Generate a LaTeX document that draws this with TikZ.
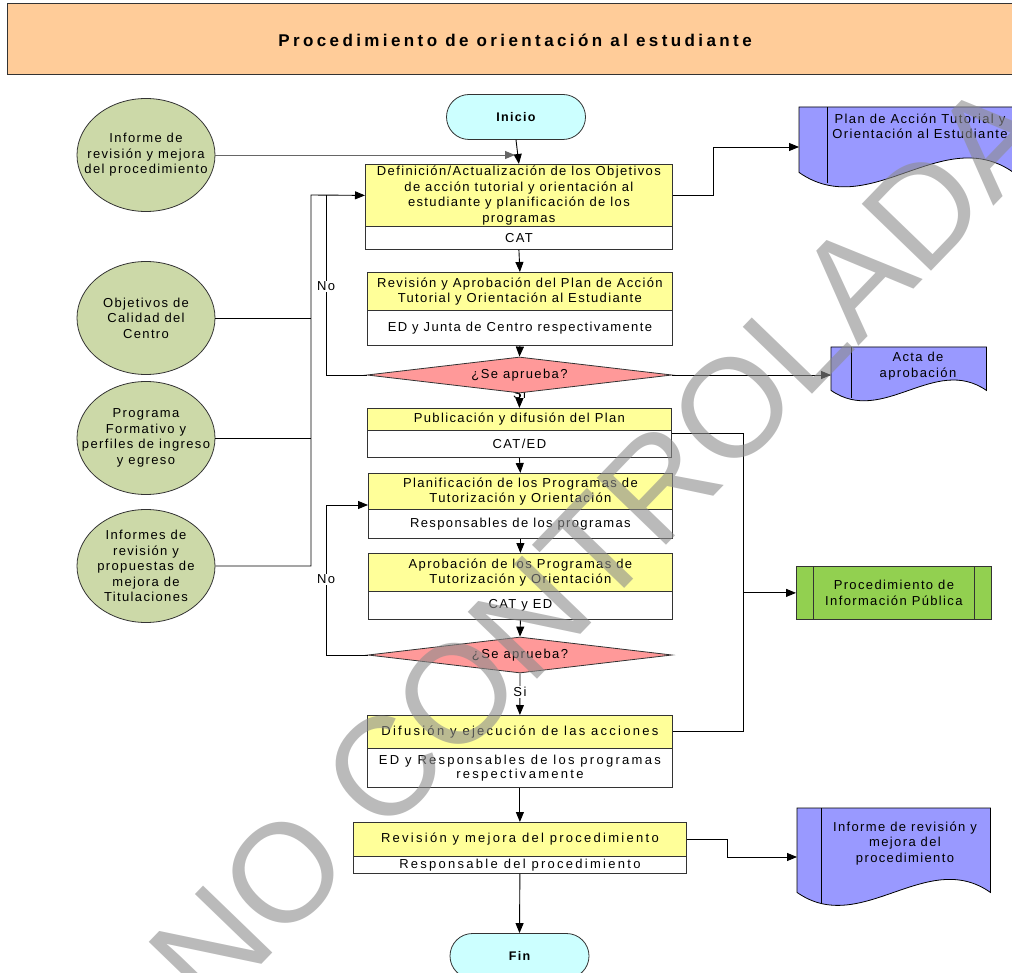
\documentclass[tikz,border=0pt]{standalone}
\usepackage{fontspec}
\setmainfont{Liberation Sans}
\newfontfamily\spfont[LetterSpace=10.5]{Liberation Sans}
\newfontfamily\spwide[LetterSpace=17.5]{Liberation Sans}
\newfontfamily\ttlfont[LetterSpace=20]{Liberation Sans}
\newfontfamily\wmfont{Liberation Sans}
\usetikzlibrary{arrows.meta,shapes.geometric,shapes.misc}
\definecolor{hdr}{HTML}{FFCC99}
\definecolor{yel}{HTML}{FFFF99}
\definecolor{dia}{HTML}{FF9999}
\definecolor{circ}{HTML}{CCD9A8}
\definecolor{term}{HTML}{CCFFFF}
\definecolor{docb}{HTML}{9999FF}
\definecolor{grn}{HTML}{92D050}
\definecolor{bord}{HTML}{333333}
\tikzset{
  txt/.style={font=\spfont\fontsize{13}{15.6}\selectfont, align=center},
  wtxt/.style={font=\spwide\fontsize{13}{14.5}\selectfont},
  ytop/.style={txt, draw=bord, fill=yel, line width=0.8pt, inner sep=0pt, anchor=north west},
  wbot/.style={txt, draw=bord, fill=white, line width=0.8pt, inner sep=0pt, anchor=north west},
  circnode/.style={ellipse, draw=bord, fill=circ, line width=0.8pt, inner sep=0pt, minimum width=138pt, minimum height=113pt},
  termnode/.style={txt, rounded rectangle, draw=bord, fill=term, line width=0.8pt, inner sep=0pt, minimum width=139pt, minimum height=45pt, font=\spfont\bfseries\fontsize{12.5}{15}\selectfont},
  dianode/.style={txt, diamond, draw=bord, fill=dia, line width=0.8pt, inner sep=0pt, aspect=8, minimum width=305pt, minimum height=36pt},
  ln/.style={draw=black, line width=0.9pt},
  arr/.style={ln, -{Triangle[length=10pt,width=8pt]}},
  docsh/.style={draw=black, fill=docb, line width=0.8pt},
  area/.style={inner sep=0pt, anchor=north west},
  lbl/.style={txt, fill=white, inner sep=1pt},
}
\begin{document}
\begin{tikzpicture}[x=1pt,y=-1pt]
\useasboundingbox (0,0) rectangle (1012,973);
% header
\node[draw=bord, fill=hdr, line width=0.9pt, anchor=north west, minimum width=1015pt, minimum height=71pt, inner sep=0pt] (hdr) at (7,3) {};
\node[font=\ttlfont\bfseries\fontsize{17}{18}\selectfont] (title) at (515,40) {Procedimiento de orientación al estudiante};

% inputs
\node[circnode] (c1) at (146,155) {};
\node[txt] (c1t) at (c1) {Informe de\\revisión y mejora\\del procedimiento};
\node[circnode] (c2) at (146,318) {};
\node[txt] (c2t) at (c2) {Objetivos de\\Calidad del\\Centro};
\node[circnode] (c3) at (146,438) {};
\node[txt] (c3t) at (c3) {Programa\\Formativo y\\perfiles de ingreso\\y egreso};
\node[circnode] (c4) at (146,566) {};
\node[txt] (c4t) at (c4) {Informes de\\revisión y\\propuestas de\\mejora de\\Titulaciones};

% terminals
\node[termnode] (ini) at (516,117) {Inicio};
\node[termnode] (fin) at (519.5,956) {Fin};

% process boxes
\node[ytop, minimum width=307pt, minimum height=62pt] (b1t) at (365,164) {Definición/Actualización de los Objetivos\\de acción tutorial y orientación al\\estudiante y planificación de los\\programas};
\node[wbot, minimum width=307pt, minimum height=23pt] (b1b) at (365,226) {CAT};
\node[ytop, minimum width=305pt, minimum height=38pt] (b2t) at (367,272) {Revisión y Aprobación del Plan de Acción\\Tutorial y Orientación al Estudiante};
\node[wbot, minimum width=305pt, minimum height=35pt] (b2b) at (367,310) {ED y Junta de Centro respectivamente};
\node[lbl, fill=none] (si1) at (519.5,394) {Si};
\node[dianode] (d1) at (519.5,375) {¿Se aprueba?};
\node[ytop, minimum width=304pt, minimum height=22pt] (b3t) at (367,408) {Publicación y difusión del Plan};
\node[wbot, minimum width=304pt, minimum height=27pt] (b3b) at (367,430) {CAT/ED};
\node[ytop, minimum width=304pt, minimum height=36pt] (b4t) at (368,473) {Planificación de los Programas de\\Tutorización y Orientación};
\node[wbot, minimum width=304pt, minimum height=29pt] (b4b) at (368,509) {Responsables de los programas};
\node[ytop, minimum width=304pt, minimum height=38pt] (b5t) at (368,553) {Aprobación de los Programas de\\Tutorización y Orientación};
\node[wbot, minimum width=304pt, minimum height=28pt] (b5b) at (368,591) {CAT y ED};
\node[dianode, minimum width=304pt] (d2) at (520,655) {¿Se aprueba?};
\node[ytop, wtxt, minimum width=305pt, minimum height=33pt] (b6t) at (367,715) {Difusión y ejecución de las acciones};
\node[wbot, wtxt, minimum width=305pt, minimum height=39pt] (b6b) at (367,748) {ED y Responsables de los programas\\respectivamente};
\node[ytop, wtxt, minimum width=333pt, minimum height=34pt] (b7t) at (353,822) {Revisión y mejora del procedimiento};
\node[wbot, wtxt, minimum width=333pt, minimum height=17pt] (b7b) at (353,856) {Responsable del procedimiento};

% output documents
\node[area, minimum width=214pt, minimum height=65pt] (doc1) at (799,107) {};
\draw[docsh] (doc1.south west) -- (doc1.north west) -- (doc1.north east) -- (doc1.south east)
  .. controls +(-71,-50) and +(71,50) .. (doc1.south west) -- cycle;
\draw[line width=0.8pt] (827,107) -- (827,183);
\node[txt, anchor=north] (doc1t) at (920,110) {Plan de Acción Tutorial y\\Orientación al Estudiante};

\node[area, minimum width=155pt, minimum height=43pt] (doc2) at (831,347) {};
\draw[docsh] (doc2.south west) -- (doc2.north west) -- (doc2.north east) -- (doc2.south east)
  .. controls +(-52,-36) and +(52,36) .. (doc2.south west) -- cycle;
\draw[line width=0.8pt] (851,347) -- (851,398);
\node[txt, anchor=north] (doc2t) at (918,349) {Acta de\\aprobación};

\node[area, minimum width=193pt, minimum height=84pt] (doc3) at (797,808) {};
\draw[docsh] (doc3.south west) -- (doc3.north west) -- (doc3.north east) -- (doc3.south east)
  .. controls +(-64,-45) and +(64,45) .. (doc3.south west) -- cycle;
\draw[line width=0.8pt] (821,808) -- (821,903);
\node[txt, anchor=north] (doc3t) at (905,818) {Informe de revisión y\\mejora del\\procedimiento};

\node[txt, draw=bord, fill=grn, line width=0.8pt, inner sep=0pt, anchor=north west, minimum width=195pt, minimum height=53pt] (pub) at (796,566) {Procedimiento de\\Información Pública};
\draw[line width=0.8pt, draw=bord] (813,566) -- (813,619) (974,566) -- (974,619);

% coordinates for connectors
\coordinate (j1) at (515,155);
\coordinate (v1) at (311,195);
\coordinate (n1) at (326,195);
\coordinate (n2) at (326,505);
\coordinate (r1) at (713,147);
\coordinate (r3) at (743,433);
\coordinate (r7) at (727,857);

% main flow
\draw[arr] (ini.south) -- (b1t.north);
\draw[arr, draw=black!60] (c1.east) -- (j1);
\draw[arr] (b1b.south) -- (b2t.north);
\draw[arr] (b2b.south) -- (d1.north);
\draw[arr] (d1.south) -- (b3t.north);
\draw[arr] (b3b.south) -- (b4t.north);
\draw[arr] (b4b.south) -- (b5t.north);
\draw[arr] (b5b.south) -- (d2.north);
\draw[arr] (d2.south) -- (b6t.north) node[lbl, pos=0.45] {Si};
\draw[arr] (b6b.south) -- (b7t.north);
\draw[arr] (b7b.south) -- (fin.north);

% inputs to box 1
\draw[arr] (c4.east) -| (v1) -- (b1t.west);
\draw[ln] (c2.east) -- (c2.east -| v1);
\draw[ln] (c3.east) -- (c3.east -| v1);

% No loops
\draw[ln] (d1.west) -| (n1) node[lbl, pos=0.747] {No};
\draw[arr] (d2.west) -| (n2) node[lbl, pos=0.753] {No} -- (b4t.west |- n2);

% outputs
\draw[arr] (b1t.east) -| (r1) -- (r1 -| doc1.west);
\draw[arr] (d1.east) -- (d1.east -| doc2.west);
\draw[ln] (b6t.east) -| (r3) -- (r3 -| b3b.east);
\draw[arr] (pub.west -| r3) -- (pub.west);
\draw[arr] (b7t.east) -| (r7) -- (r7 -| doc3.west);

% watermark
\node[rotate=46, text=black!45, opacity=0.6, font=\wmfont\fontsize{140}{140}\selectfont] (wm) at (600,545) {NO CONTROLADA};
\end{tikzpicture}
\end{document}
